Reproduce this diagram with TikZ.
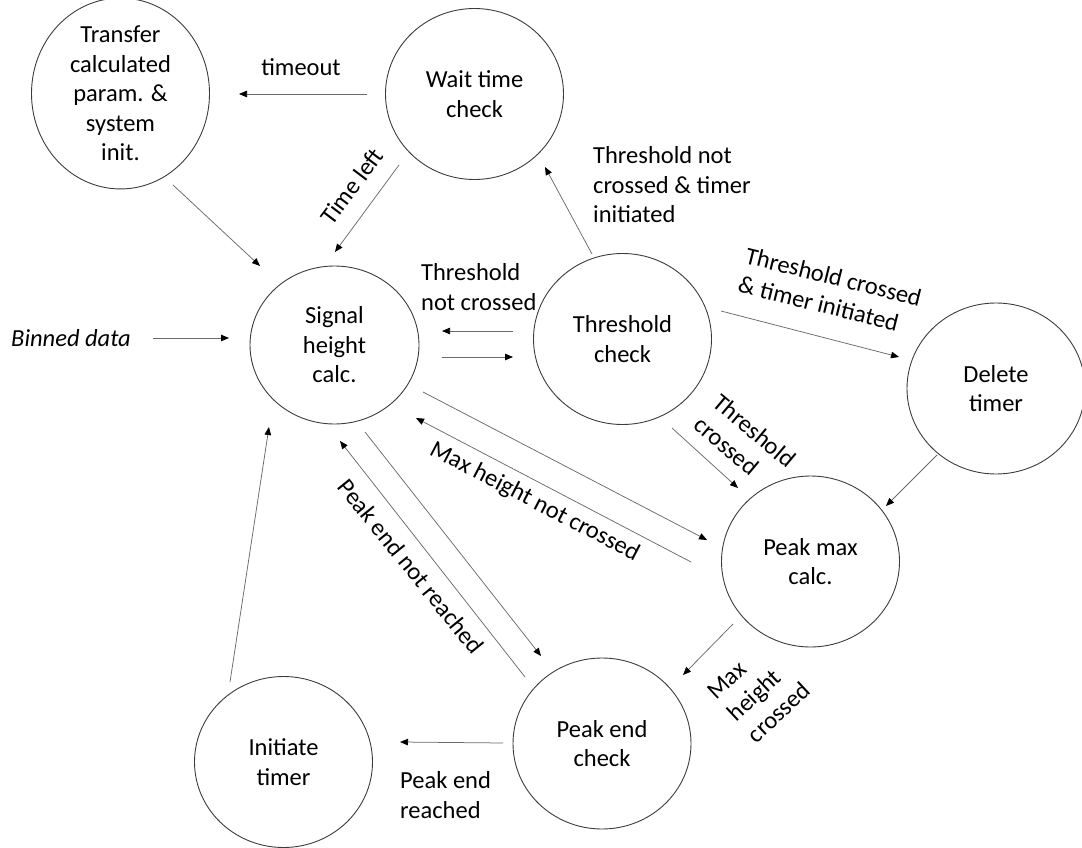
\documentclass[tikz,border=0pt]{standalone}
\usepackage{fontspec}
\setmainfont{Carlito}
\usetikzlibrary{shapes.geometric,arrows.meta}

\definecolor{rim}{HTML}{3C3C3C}
\definecolor{wire}{HTML}{6A6A6A}

\tikzset{
  state/.style={ellipse, draw=rim, line width=0.9pt, inner sep=0pt,
    minimum width=178pt, minimum height=171pt, align=center,
    font=\fontsize{24.5}{29.5}\selectfont},
  smallstate/.style={state, minimum width=169pt, minimum height=158pt},
  flow/.style={draw=wire, line width=0.75pt,
    -{Triangle[length=8pt,width=6.5pt,color=black,fill=black]}},
  tag/.style={inner sep=0pt, font=\fontsize{24.5}{29.5}\selectfont},
}

\begin{document}
\begin{tikzpicture}[x=1pt,y=-1pt]
\useasboundingbox (0,0) rectangle (1082,848);

% states
\node[state] (tr) at (120.5,93.5) {Transfer\\calculated\\param. \&\\system\\init.};
\node[state] (wt) at (474.5,94) {Wait time\\check};
\node[smallstate] (sig) at (334.5,345) {Signal\\height\\calc.};
\node[state] (thr) at (622.5,339) {Threshold\\check};
\node[state] (del) at (996,388.5) {Delete\\timer};
\node[state] (pmax) at (810.5,561.5) {Peak max\\calc.};
\node[state] (pend) at (602,743.5) {Peak end\\check};
\node[state] (init) at (283.5,762) {Initiate\\timer};

% input
\node[tag, font=\fontsize{24.5}{29.5}\selectfont\itshape] (bin) at (71,338) {Binned data};

% transitions
\draw[flow] ([shift={(-107.5,0)}]wt.center) -- ([shift={(118.5,0.5)}]tr.center);
\draw[flow] ([shift={(-75.5,71)}]wt.center) -- ([shift={(0.5,-93)}]sig.center);
\draw[flow] ([shift={(52.5,91.5)}]tr.center) -- ([shift={(-74.5,-79)}]sig.center);
\draw[flow] ([shift={(82,0)}]bin.center) -- ([shift={(-105.5,-7)}]sig.center);
\draw[flow] ([shift={(-109.5,-8)}]thr.center) -- ([shift={(107.5,-14)}]sig.center);
\draw[flow] ([shift={(107.5,12)}]sig.center) -- ([shift={(-109.5,18)}]thr.center);
\draw[flow] ([shift={(-30.5,-85)}]thr.center) -- ([shift={(70.5,73)}]wt.center);
\draw[flow] ([shift={(98.5,-28)}]thr.center) -- ([shift={(-97,-31.5)}]del.center);
\draw[flow] ([shift={(49.5,89)}]thr.center) -- ([shift={(-72.5,-73.5)}]pmax.center);
\draw[flow] ([shift={(-59,66.5)}]del.center) -- ([shift={(75.5,-55.5)}]pmax.center);
\draw[flow] ([shift={(88.5,47)}]sig.center) -- ([shift={(-103.5,-21.5)}]pmax.center);
\draw[flow] ([shift={(-119.5,0.5)}]pmax.center) -- ([shift={(81.5,73)}]sig.center);
\draw[flow] ([shift={(30.5,87)}]sig.center) -- ([shift={(-61,-87.5)}]pend.center);
\draw[flow] ([shift={(-77,-66.5)}]pend.center) -- ([shift={(5.5,96)}]sig.center);
\draw[flow] ([shift={(-77.5,62.5)}]pmax.center) -- ([shift={(81,-68.5)}]pend.center);
\draw[flow] ([shift={(-99,-0.5)}]pend.center) -- ([shift={(116.5,-20)}]init.center);
\draw[flow] ([shift={(-53.5,-80)}]init.center) -- ([shift={(-65.5,82)}]sig.center);

% transition labels
\node[tag] (l1) at (301,67) {timeout};
\node[tag, rotate=53] (l2) at (352,186) {Time left};
\node[tag, anchor=west, align=left] (l3) at (421,287) {Threshold\\not crossed};
\node[tag, anchor=west, align=left] (l4) at (593,185) {Threshold not\\crossed \& timer\\initiated};
\node[tag, rotate=-14, align=left] (l5) at (830,291) {Threshold crossed\\\& timer initiated};
\node[tag, rotate=-40, align=left] (l6) at (745,442) {Threshold\\crossed};
\node[tag, rotate=-27.5] (l7) at (534.5,502) {Max height not crossed};
\node[tag, rotate=-51] (l8) at (411,566.5) {Peak end not reached};
\node[tag, rotate=43, align=left] (l9) at (759,691) {Max\\height\\crossed};
\node[tag, anchor=west, align=left] (l10) at (400,795) {Peak end\\reached};
\end{tikzpicture}
\end{document}
